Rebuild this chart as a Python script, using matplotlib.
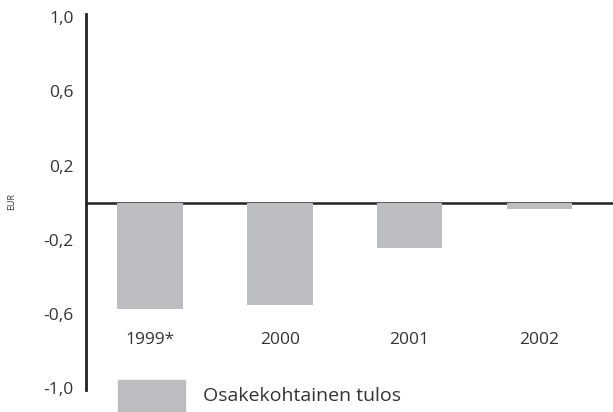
import numpy as np
import matplotlib.pyplot as plt
from matplotlib.patches import Rectangle

plt.rcParams['font.family'] = ['Open Sans', 'DejaVu Sans']

years = ['1999*', '2000', '2001', '2002']
eps = [-0.571, -0.551, -0.243, -0.034]
yticks = [1.0, 0.6, 0.2, -0.2, -0.6, -1.0]
ytick_labels = ['1,0', '0,6', '0,2', '-0,2', '-0,6', '-1,0']
legend_label = 'Osakekohtainen tulos'

bar_color = '#bcbdc0'
txt_color = '#333333'

fig = plt.figure(figsize=(6.13, 4.12), dpi=100)
ax = fig.add_axes([86 / 613, 1 - 390 / 412, 1 - 86 / 613, (390 - 14) / 412])

x = np.arange(len(years))
ax.bar(x, eps, width=0.506, color=bar_color, zorder=2)
ax.axhline(0, color='#222222', lw=1.8, zorder=1)

ax.set_xlim(-0.493, 3.567)
ax.set_ylim(-1.01, 1.018)

for s in ['top', 'right', 'bottom']:
    ax.spines[s].set_visible(False)
ax.spines['left'].set_linewidth(2)
ax.spines['left'].set_color('#222222')

ax.set_yticks(yticks)
ax.set_yticklabels(ytick_labels, fontsize=12.5, color=txt_color)
ax.tick_params(axis='y', length=0, pad=9)
ax.set_xticks([])

# year labels under the bars
for xi, lab in zip(x, years):
    ax.text(xi, -0.74, lab, ha='center', va='center', fontsize=12.5, color=txt_color)

fig.text(12 / 613, 1 - 202 / 412, 'EUR', rotation=90, ha='center', va='center',
         fontsize=6.5, color=txt_color)

# legend
fig.patches.append(Rectangle((118 / 613, 0), 67 / 613, 32 / 412,
                             transform=fig.transFigure, color=bar_color))
fig.text(203 / 613, 1 - 396 / 412, legend_label, ha='left', va='center',
         fontsize=14, color=txt_color)

fig.savefig('out.png', dpi=100)
